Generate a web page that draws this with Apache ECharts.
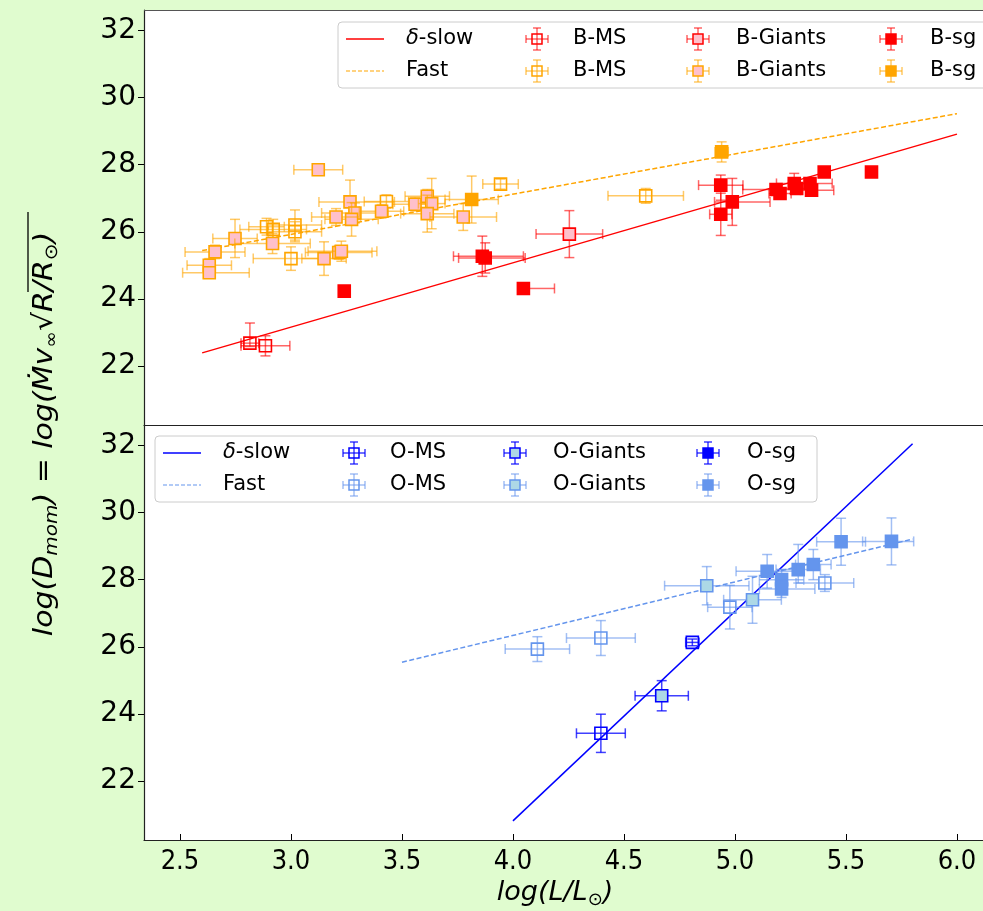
<!DOCTYPE html>
<html><head><meta charset="utf-8">
<script src="https://cdn.jsdelivr.net/npm/echarts@6/dist/echarts.min.js"></script>
<style>html,body{margin:0;padding:0;background:#e0fccf;} #c{width:983px;height:911px;}</style>
</head><body><div id="c"></div>
<script>
// ---------- DATA ----------
const xTicks = [2.5, 3.0, 3.5, 4.0, 4.5, 5.0, 5.5, 6.0];
const yTicks = [22, 24, 26, 28, 30, 32];
// each row: [logL, logDmom, xErrLow, xErrHigh, yErrLow, yErrHigh]
const bMsSlow = [
  [2.815, 22.68, 0.04, 0.04, 0.10, 0.60],
  [2.885, 22.60, 0.11, 0.11, 0.30, 0.30]
];
const bMsFast = [
  [3.43, 26.90, 0.10, 0.10, 0.20, 0.20],
  [3.944, 27.42, 0.08, 0.08, 0.15, 0.15],
  [3.018, 26.20, 0.12, 0.12, 0.45, 0.45],
  [3.018, 26.00, 0.12, 0.12, 0.30, 0.30],
  [2.92, 26.07, 0.15, 0.15, 0.30, 0.30],
  [2.89, 26.15, 0.08, 0.08, 0.25, 0.25],
  [3.00, 25.20, 0.17, 0.17, 0.35, 0.35],
  [4.598, 27.07, 0.17, 0.17, 0.22, 0.22]
];
const bGiantsSlow = [
  [4.254, 25.93, 0.15, 0.15, 0.70, 0.70]
];
const bGiantsFast = [
  [3.123, 27.85, 0.11, 0.11, 0.08, 0.08],
  [3.266, 26.89, 0.14, 0.20, 0.65, 0.65],
  [3.288, 26.56, 0.15, 0.15, 0.30, 0.30],
  [3.273, 26.37, 0.12, 0.12, 0.50, 0.50],
  [3.203, 26.44, 0.11, 0.11, 0.25, 0.25],
  [3.408, 26.61, 0.10, 0.10, 0.20, 0.20],
  [3.559, 26.82, 0.10, 0.10, 0.20, 0.20],
  [3.614, 27.06, 0.10, 0.10, 0.20, 0.20],
  [3.634, 26.84, 0.06, 0.06, 0.75, 0.75],
  [3.614, 26.54, 0.12, 0.12, 0.55, 0.55],
  [3.776, 26.44, 0.15, 0.15, 0.40, 0.40],
  [2.748, 25.80, 0.10, 0.10, 0.57, 0.57],
  [2.917, 25.65, 0.17, 0.17, 0.30, 0.30],
  [2.658, 25.40, 0.135, 0.135, 0.20, 0.20],
  [2.632, 25.00, 0.10, 0.10, 0.20, 0.20],
  [2.632, 24.78, 0.12, 0.18, 0.15, 0.15],
  [3.149, 25.20, 0.10, 0.10, 0.50, 0.50],
  [3.215, 25.38, 0.15, 0.15, 0.20, 0.20],
  [3.227, 25.42, 0.15, 0.16, 0.30, 0.30]
];
const bSgSlow = [
  [3.24, 24.23, 0, 0, 0, 0],
  [3.862, 25.27, 0.13, 0.185, 0.60, 0.60],
  [3.875, 25.22, 0.12, 0.18, 0.45, 0.45],
  [4.047, 24.31, 0, 0.14, 0, 0],
  [4.936, 27.39, 0.10, 0.10, 0.45, 0.30],
  [4.988, 26.89, 0.08, 0.17, 0.70, 0.70],
  [4.936, 26.52, 0.05, 0.05, 0.63, 0.63],
  [5.185, 27.26, 0.15, 0.10, 0.15, 0.15],
  [5.203, 27.14, 0.05, 0.05, 0.10, 0.10],
  [5.267, 27.44, 0.08, 0.08, 0.30, 0.30],
  [5.278, 27.29, 0.08, 0.08, 0.15, 0.15],
  [5.338, 27.44, 0.05, 0.10, 0.15, 0.15],
  [5.345, 27.24, 0.05, 0.10, 0.15, 0.15],
  [5.402, 27.78, 0, 0, 0, 0],
  [5.615, 27.78, 0, 0, 0, 0]
];
const bSgFast = [
  [3.814, 26.96, 0.12, 0.12, 0.70, 0.70],
  [4.94, 28.38, 0.03, 0.03, 0.30, 0.30]
];
const oMsSlow = [
  [4.396, 23.42, 0.11, 0.11, 0.57, 0.57],
  [4.808, 26.13, 0.03, 0.03, 0.10, 0.10]
];
const oMsFast = [
  [4.11, 25.93, 0.145, 0.145, 0.37, 0.37],
  [4.396, 26.26, 0.155, 0.155, 0.52, 0.52],
  [4.977, 27.18, 0.10, 0.10, 0.65, 0.65],
  [5.405, 27.90, 0.13, 0.13, 0.25, 0.25]
];
const oGiantsSlow = [
  [4.67, 24.54, 0.12, 0.12, 0.45, 0.45]
];
const oGiantsFast = [
  [4.873, 27.82, 0.19, 0.19, 0.57, 0.57],
  [5.079, 27.40, 0.13, 0.13, 0.70, 0.70]
];
const oSgSlow = [];
const oSgFast = [
  [5.145, 28.25, 0.14, 0.14, 0.50, 0.50],
  [5.285, 28.30, 0.10, 0.10, 0.40, 0.75],
  [5.353, 28.45, 0.08, 0.08, 0.45, 0.45],
  [5.21, 28.00, 0.10, 0.10, 0.30, 0.30],
  [5.21, 27.72, 0.10, 0.15, 0.25, 0.25],
  [5.478, 29.13, 0.11, 0.11, 0.70, 0.70],
  [5.705, 29.14, 0.13, 0.10, 0.70, 0.70]
];
// fit lines [logL, logDmom]
const slowB = [[2.6, 22.39], [6.0, 28.91]];
const fastB = [[2.6, 25.44], [6.0, 29.52]];
const slowO = [[4.0, 20.81], [5.8, 32.05]];
const fastO = [[3.5, 25.54], [5.8, 29.21]];

// ---------- STYLES ----------
const RED = '#ff0000', ORANGE = '#ffa500', PINK = '#ffc0cb';
const BLUE = '#0000ff', CBLUE = '#6495ed', LBLUE = '#add8e6';
const ST = {
  bMsSlow:     {edge: RED, fill: 'none', err: RED, op: 0.6},
  bMsFast:     {edge: ORANGE, fill: 'none', err: ORANGE, op: 0.6},
  bGiantsSlow: {edge: RED, fill: PINK, err: RED, op: 0.6},
  bGiantsFast: {edge: ORANGE, fill: PINK, err: ORANGE, op: 0.6},
  bSgSlow:     {edge: RED, fill: RED, err: RED, op: 0.6},
  bSgFast:     {edge: ORANGE, fill: ORANGE, err: ORANGE, op: 0.6},
  oMsSlow:     {edge: BLUE, fill: 'none', err: BLUE, op: 0.75},
  oMsFast:     {edge: CBLUE, fill: 'none', err: CBLUE, op: 0.6},
  oGiantsSlow: {edge: BLUE, fill: LBLUE, err: BLUE, op: 0.75},
  oGiantsFast: {edge: CBLUE, fill: LBLUE, err: CBLUE, op: 0.6},
  oSgSlow:     {edge: BLUE, fill: BLUE, err: BLUE, op: 0.75},
  oSgFast:     {edge: CBLUE, fill: CBLUE, err: CBLUE, op: 0.6}
};
const SQ = 12, CAP = 5;

function errRender(st) {
  return function (params, api) {
    const x = api.value(0), y = api.value(1);
    const xl = api.value(2), xh = api.value(3), yl = api.value(4), yh = api.value(5);
    const c = api.coord([x, y]);
    const es = {stroke: st.err, lineWidth: 1.5, opacity: st.op};
    const ch = [];
    if (xl > 0 || xh > 0) {
      const a = api.coord([x - xl, y]), b = api.coord([x + xh, y]);
      ch.push({type: 'line', shape: {x1: a[0], y1: a[1], x2: b[0], y2: b[1]}, style: es});
      if (xl > 0) ch.push({type: 'line', shape: {x1: a[0], y1: a[1] - CAP, x2: a[0], y2: a[1] + CAP}, style: es});
      if (xh > 0) ch.push({type: 'line', shape: {x1: b[0], y1: b[1] - CAP, x2: b[0], y2: b[1] + CAP}, style: es});
    }
    if (yl > 0 || yh > 0) {
      const a = api.coord([x, y - yl]), b = api.coord([x, y + yh]);
      ch.push({type: 'line', shape: {x1: a[0], y1: a[1], x2: b[0], y2: b[1]}, style: es});
      if (yl > 0) ch.push({type: 'line', shape: {x1: a[0] - CAP, y1: a[1], x2: a[0] + CAP, y2: a[1]}, style: es});
      if (yh > 0) ch.push({type: 'line', shape: {x1: b[0] - CAP, y1: b[1], x2: b[0] + CAP, y2: b[1]}, style: es});
    }
    ch.push({type: 'rect', shape: {x: c[0] - SQ / 2, y: c[1] - SQ / 2, width: SQ, height: SQ},
      style: {fill: st.fill, stroke: st.edge, lineWidth: 1.6}});
    return {type: 'group', children: ch};
  };
}
function errSeries(data, st, idx) {
  return {type: 'custom', xAxisIndex: idx, yAxisIndex: idx, data: data,
    encode: {x: 0, y: 1}, renderItem: errRender(st), clip: true, z: 3, silent: true};
}
function lineSeries(data, color, dashed, idx) {
  return {type: 'line', xAxisIndex: idx, yAxisIndex: idx, data: data, showSymbol: false,
    symbol: 'none', silent: true, z: 2,
    lineStyle: {color: color, width: 1.5, type: dashed ? [5, 2.5] : 'solid'}};
}

// ---------- LAYOUT ----------
const GL = 144, GW = 983 - GL, PXU = 222;
const XMIN = 2.338, XMAX = XMIN + GW / PXU;
const YMIN = 20.24, YMAX = 32.61;
const FONT = 'DejaVu Sans';
const SPINE = '#222';

function xAxis(idx, showLab) {
  return {type: 'value', gridIndex: idx, min: XMIN, max: XMAX,
    axisLine: {show: true, lineStyle: {color: SPINE, width: 1.2}}, splitLine: {show: false},
    axisTick: {show: showLab, inside: true, length: 6, customValues: xTicks, lineStyle: {color: '#000'}},
    axisLabel: {show: showLab, customValues: xTicks, margin: 8, color: '#000',
      fontFamily: 'DejaVu Sans Condensed', fontSize: 27, formatter: v => v.toFixed(1)}};
}
function yAxis(idx) {
  return {type: 'value', gridIndex: idx, min: YMIN, max: YMAX,
    axisLine: {show: true, lineStyle: {color: SPINE, width: 1.2}}, splitLine: {show: false},
    axisTick: {show: true, inside: false, length: 6, customValues: yTicks, lineStyle: {color: '#000'}},
    axisLabel: {customValues: yTicks, margin: 8, color: '#000', fontFamily: FONT, fontSize: 28,
      formatter: v => String(v)}};
}

// legend glyph builders
function glyph(cx, cy, st) {
  const es = {stroke: st.err, lineWidth: 1.5, opacity: st.op};
  const h = 11, c = 4, s = 10;
  return [
    {type: 'line', shape: {x1: cx - h, y1: cy, x2: cx + h, y2: cy}, style: es},
    {type: 'line', shape: {x1: cx - h, y1: cy - c, x2: cx - h, y2: cy + c}, style: es},
    {type: 'line', shape: {x1: cx + h, y1: cy - c, x2: cx + h, y2: cy + c}, style: es},
    {type: 'line', shape: {x1: cx, y1: cy - h, x2: cx, y2: cy + h}, style: es},
    {type: 'line', shape: {x1: cx - c, y1: cy - h, x2: cx + c, y2: cy - h}, style: es},
    {type: 'line', shape: {x1: cx - c, y1: cy + h, x2: cx + c, y2: cy + h}, style: es},
    {type: 'rect', shape: {x: cx - s / 2, y: cy - s / 2, width: s, height: s},
      style: {fill: st.fill, stroke: st.edge, lineWidth: 1.5}}
  ];
}
function legendText(x, y, t) {
  return {type: 'text', x: x, y: y, style: {text: t, fontFamily: FONT, fontSize: 21, fill: '#000',
    verticalAlign: 'middle', align: 'left',
    rich: {i: {fontFamily: FONT, fontSize: 21, fontStyle: 'italic', fill: '#000'},
           n: {fontFamily: FONT, fontSize: 21, fill: '#000'}}}};
}
function legend(bx, by, c1, c2, labels, sts) {
  const r1 = by + 17, r2 = by + 49;
  const el = [{type: 'rect', shape: {x: bx, y: by, width: 662, height: 66, r: 4},
    style: {fill: 'rgba(255,255,255,0.85)', stroke: '#cccccc', lineWidth: 1}}];
  el.push({type: 'line', shape: {x1: bx + 8, y1: r1, x2: bx + 46, y2: r1}, style: {stroke: c1, lineWidth: 1.5}});
  el.push({type: 'line', shape: {x1: bx + 8, y1: r2, x2: bx + 46, y2: r2}, style: {stroke: c2, lineWidth: 1.2, lineDash: [4, 2]}});
  el.push(legendText(bx + 68, r1, '{i|δ}{n|-slow}'));
  el.push(legendText(bx + 68, r2, 'Fast'));
  const mx = [199, 360, 553], tx = [235, 398, 592];
  for (let k = 0; k < 3; k++) {
    el.push(...glyph(bx + mx[k], r1, sts[k * 2]));
    el.push(...glyph(bx + mx[k], r2, sts[k * 2 + 1]));
    el.push(legendText(bx + tx[k], r1, labels[k]));
    el.push(legendText(bx + tx[k], r2, labels[k]));
  }
  return {type: 'group', z: 100, children: el};
}

const chart = echarts.init(document.getElementById('c'), null, {renderer: 'canvas'});
const option = {
  backgroundColor: '#e0fccf',
  animation: false,
  grid: [
    {left: GL, top: 10, width: GW, height: 415, show: true, backgroundColor: '#ffffff', borderWidth: 0},
    {left: GL, top: 425, width: GW, height: 415, show: true, backgroundColor: '#ffffff', borderWidth: 0}
  ],
  xAxis: [xAxis(0, false), xAxis(1, true)],
  yAxis: [yAxis(0), yAxis(1)],
  series: [
    lineSeries(slowB, RED, false, 0),
    lineSeries(fastB, ORANGE, true, 0),
    errSeries(bMsSlow, ST.bMsSlow, 0),
    errSeries(bMsFast, ST.bMsFast, 0),
    errSeries(bGiantsSlow, ST.bGiantsSlow, 0),
    errSeries(bGiantsFast, ST.bGiantsFast, 0),
    errSeries(bSgSlow, ST.bSgSlow, 0),
    errSeries(bSgFast, ST.bSgFast, 0),
    lineSeries(slowO, BLUE, false, 1),
    lineSeries(fastO, CBLUE, true, 1),
    errSeries(oMsSlow, ST.oMsSlow, 1),
    errSeries(oMsFast, ST.oMsFast, 1),
    errSeries(oGiantsSlow, ST.oGiantsSlow, 1),
    errSeries(oGiantsFast, ST.oGiantsFast, 1),
    errSeries(oSgSlow, ST.oSgSlow, 1),
    errSeries(oSgFast, ST.oSgFast, 1)
  ],
  graphic: [
    {type: 'line', z: 90, shape: {x1: GL, y1: 10.5, x2: 983, y2: 10.5}, style: {stroke: '#555', lineWidth: 1.2}},
    legend(338, 22, RED, ORANGE, ['B-MS', 'B-Giants', 'B-sg'],
      [ST.bMsSlow, ST.bMsFast, ST.bGiantsSlow, ST.bGiantsFast, ST.bSgSlow, ST.bSgFast]),
    legend(155, 436, BLUE, CBLUE, ['O-MS', 'O-Giants', 'O-sg'],
      [ST.oMsSlow, ST.oMsFast, ST.oGiantsSlow, ST.oGiantsFast, ST.oSgSlow, ST.oSgFast]),
    {type: 'text', x: 555, y: 893, z: 100, style: {
      text: '{i|log(L/L}{s|⊙}{i|)}', align: 'center', verticalAlign: 'middle',
      rich: {i: {fontFamily: FONT, fontStyle: 'italic', fontSize: 27, fill: '#000', lineHeight: 32},
             s: {fontFamily: FONT, fontSize: 18, fill: '#000', verticalAlign: 'bottom', lineHeight: 32}}}},
    {type: 'group', x: 45, y: 434, rotation: Math.PI / 2, scaleX: 1.11, z: 100, children: [
      {type: 'text', x: 0, y: 0, style: {
        text: '{i|log(D}{s|mom}{i|) = log(Ṁv}{s|∞}{n|√}{i|R/R}{s|⊙}{i|)}', align: 'center', verticalAlign: 'middle',
        rich: {i: {fontFamily: FONT, fontStyle: 'italic', fontSize: 27, fill: '#000', lineHeight: 32},
               n: {fontFamily: FONT, fontSize: 27, fill: '#000', lineHeight: 32},
               s: {fontFamily: FONT, fontStyle: 'italic', fontSize: 18, fill: '#000', verticalAlign: 'bottom', lineHeight: 32}}}},
      {type: 'line', shape: {x1: 128, y1: -17, x2: 200, y2: -17}, style: {stroke: '#000', lineWidth: 1.3}}
    ]}
  ]
};
chart.setOption(option);
</script></body></html>
